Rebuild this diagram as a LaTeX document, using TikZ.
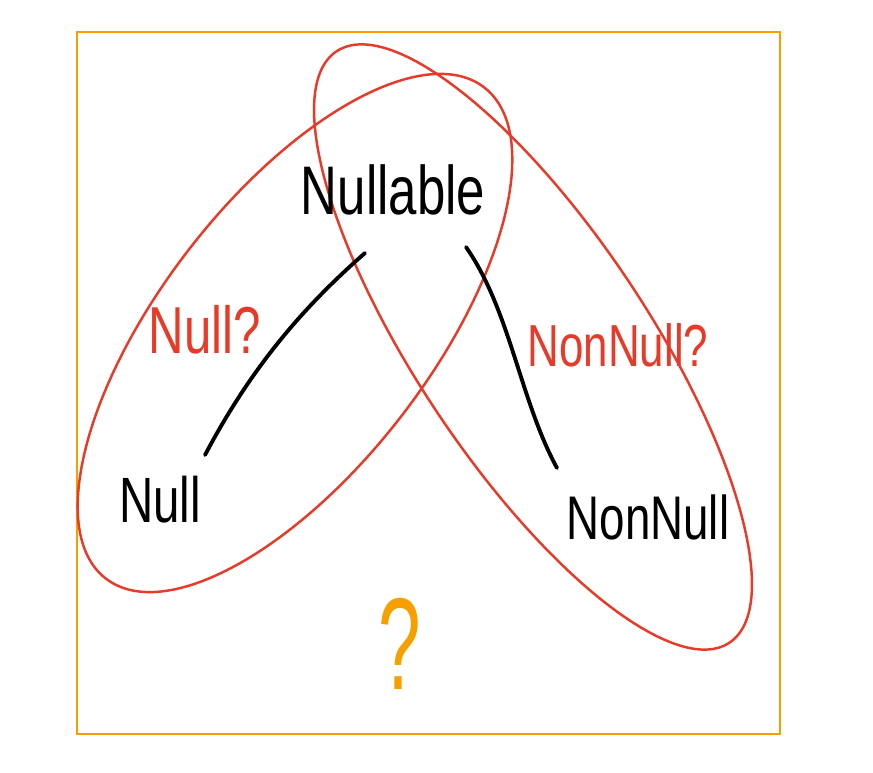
\documentclass[tikz,border=0pt]{standalone}
\usepackage{fontspec}
\setmainfont{Liberation Sans}
\usetikzlibrary{positioning}
\definecolor{setred}{RGB}{232,58,40}
\definecolor{boxorange}{RGB}{246,160,0}

\begin{document}
\begin{tikzpicture}[x=0.02cm, y=-0.02cm,
    hand/.style={font=\fontsize{#1}{#1}\selectfont, inner sep=0pt, yscale=1.35, transform shape},
    setline/.style={draw=setred, line width=1.4pt},
    edge/.style={draw=black, line width=2.2pt, line cap=round}]
  \useasboundingbox (0,0) rectangle (873,773);
  % Universe box
  \draw[boxorange, line width=1.3pt] (77,32) rectangle (780,734);
  % Sets
  \draw[setline, rotate around={52.4:(295,333)}] (295,333) ellipse [x radius=310, y radius=135];
  \draw[setline, rotate around={-56.4:(533,347)}] (533,347) ellipse [x radius=355, y radius=116];
  % Types
  \node[hand=29] (nullable) at (393,190) {Nullable};
  \node[hand=27] (null) at (160,500) {Null};
  \node[hand=26] (nonnull) at (648,517) {NonNull};
  % Questions
  \node[hand=28, text=setred] (isnull) at (205,330) {Null?};
  \node[hand=25, text=setred] (isnonnull) at (618,345) {NonNull?};
  \node[hand=58, text=boxorange, xscale=0.75, yscale=0.95] (unknown) at (400,644) {?};
  % Edges
  \coordinate (lstart) at (365,253);
  \coordinate (lend) at (205,455);
  \coordinate (rstart) at (466,247);
  \coordinate (rend) at (557,468);
  \draw[edge] (lstart) .. controls (300,310) and (250,370) .. (lend);
  \draw[edge] (rstart) .. controls (510,310) and (520,400) .. (rend);
\end{tikzpicture}
\end{document}
